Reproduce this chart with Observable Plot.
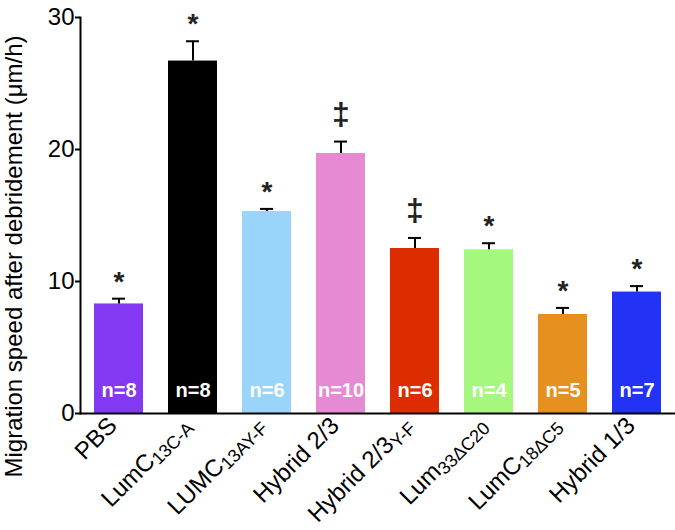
<!DOCTYPE html>
<html>
<head>
<meta charset="utf-8">
<script src="https://cdn.jsdelivr.net/npm/d3@7"></script>
<script src="https://cdn.jsdelivr.net/npm/@observablehq/plot@0.6"></script>
<style>
  html, body { margin: 0; padding: 0; background: #fff; }
  #chart svg { display: block; font-family: "Liberation Sans", Arial, sans-serif; }
</style>
</head>
<body>
<div id="chart"></div>
<script>
// ---- data ----
const categories = ["PBS", "LumC13C-A", "LUMC13AY-F", "Hybrid 2/3", "Hybrid 2/3Y-F", "Lum33ΔC20", "LumC18ΔC5", "Hybrid 1/3"];
const labelMain = ["PBS", "LumC", "LUMC", "Hybrid 2/3", "Hybrid 2/3", "Lum", "LumC", "Hybrid 1/3"];
const labelSub = ["", "13C-A", "13AY-F", "", "Y-F", "33ΔC20", "18ΔC5", ""];
const values = [8.3, 26.7, 15.3, 19.7, 12.5, 12.4, 7.5, 9.2];
const errors = [0.4, 1.5, 0.2, 0.9, 0.8, 0.5, 0.5, 0.45];
const nCounts = [8, 8, 6, 10, 6, 4, 5, 7];
const sigMarks = ["*", "*", "*", "‡", "‡", "*", "*", "*"];
const palette = ["#8338F2", "#000000", "#99D4FA", "#E68AD4", "#DD2C00", "#A6F77E", "#E69020", "#2233F5"];
const yTicks = [0, 10, 20, 30];
const yLabel = "Migration speed after debridement (μm/h)";

const data = categories.map((c, i) => ({
  cat: c, value: values[i], err: errors[i], top: values[i] + errors[i],
  n: "n=" + nCounts[i], mark: sigMarks[i]
}));

const FONT = "Liberation Sans, Arial, sans-serif";

const chart = Plot.plot({
  width: 675,
  height: 530,
  marginLeft: 80,
  marginRight: 0,
  marginTop: 17,
  marginBottom: 117,
  style: { fontFamily: FONT, background: "#fff", overflow: "visible" },
  x: { type: "band", domain: categories, paddingInner: 0.34, paddingOuter: 0.17 },
  y: { domain: [0, 30] },
  color: { domain: categories, range: palette },
  marks: [
    Plot.barY(data, { x: "cat", y: "value", fill: "cat" }),
    Plot.ruleX(data, { x: "cat", y1: "value", y2: "top", stroke: "#000", strokeWidth: 2 }),
    Plot.tickY(data, { x: "cat", y: "top", insetLeft: 18, insetRight: 18, stroke: "#000", strokeWidth: 2 }),
    Plot.text(data.filter(d => d.mark === "*"), { x: "cat", y: "top", text: "mark", dy: -8, fontSize: 28, fontWeight: "bold", fill: "#222", lineAnchor: "bottom" }),
    Plot.text(data.filter(d => d.mark === "‡"), { x: "cat", y: "top", text: "mark", dy: -27, fontSize: 32, fontWeight: "bold", fill: "#222", lineAnchor: "middle" }),
    Plot.text(data, { x: "cat", y: 0, text: "n", dy: -23, fontSize: 20, fontWeight: "bold", fill: "#fff", lineAnchor: "middle" }),
    Plot.frame({ anchor: "left", stroke: "#000", strokeWidth: 2 }),
    Plot.ruleY([0], { stroke: "#000", strokeWidth: 2 }),
    Plot.axisY({ ticks: yTicks, tickSize: 5, tickPadding: 1, fontSize: 24, label: null, strokeWidth: 2, fill: "#000" }),
    Plot.axisX({ tickSize: 0, tickPadding: 8, dx: -6, tickRotate: -45, fontSize: 24, label: null, tickFormat: (d) => labelMain[categories.indexOf(d)], fill: "#000" }),
    Plot.text([yLabel], { frameAnchor: "left", textAnchor: "middle", rotate: -90, dx: -66, dy: 41, fontSize: 24, fill: "#000" })
  ]
});

// add subscripts to x tick labels
const xTexts = d3.select(chart).selectAll("g[aria-label='x-axis tick label'] text");
xTexts.each(function (d, i) {
  const t = d3.select(this);
  const main = labelMain[i], sub = labelSub[i];
  if (!sub) return;
  t.text(null);
  t.append("tspan").text(main);
  t.append("tspan").attr("font-size", 18).attr("dy", "0.2em").text(sub);
});

document.getElementById("chart").appendChild(chart);
</script>
</body>
</html>
